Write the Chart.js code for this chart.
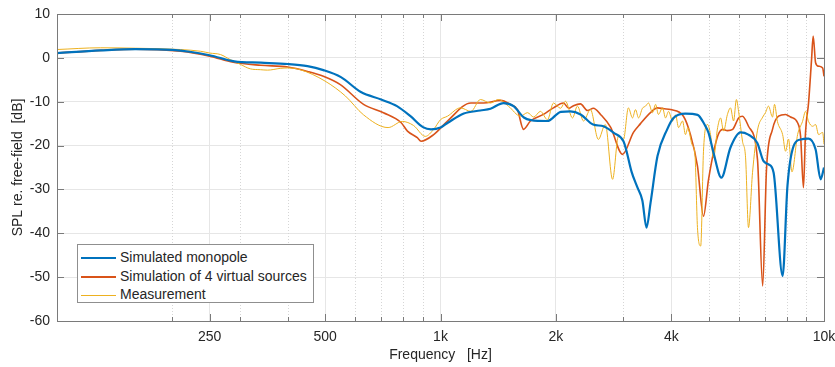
<!DOCTYPE html>
<html lang="en">
<head>
<meta charset="UTF-8">
<title>SPL re. free-field</title>
<script src="https://cdn.jsdelivr.net/npm/chart.js"></script>
<style>
  body { margin: 0; background: #fff; }
  #wrap { position: relative; width: 835px; height: 367px; }
  #legenda {
    position: absolute; left: 77px; top: 244px; width: 237px; height: 59px;
    border: 1px solid #8f8f8f; background: #fff; box-sizing: border-box;
    font-family: "Liberation Sans", Arial, sans-serif; font-size: 14px; color: #262626;
    padding-top: 3px;
  }
  .item { height: 18.7px; line-height: 18.7px; white-space: nowrap; }
  .amostra { display: inline-block; width: 35px; vertical-align: middle; margin: 0 4px 0 3px; }
</style>
</head>
<body>
<div id="wrap">
  <canvas id="grafico" width="835" height="367"></canvas>
  <div id="legenda"></div>
</div>
<script>
// eixo x
var xTicks = [250, 500, 1000, 2000, 4000, 10000];
var xTickLabels = ['250', '500', '1k', '2k', '4k', '10k'];
var xMinor = [200, 300, 400, 600, 700, 800, 900, 3000, 5000, 6000, 7000, 8000, 9000];
var yTicks = [10, 0, -10, -20, -30, -40, -50, -60];

var nomes = ['Simulated monopole', 'Simulation of 4 virtual sources', 'Measurement'];

// Simulated monopole
var monoHz = [100, 130, 160, 200, 250, 290, 340, 400, 450, 495, 550, 620, 700, 770, 835, 900, 945, 1000, 1045, 1150, 1270, 1350, 1460, 1550, 1650, 1720, 1900, 2060, 2180, 2320, 2500, 2660, 2830, 3000, 3050, 3150, 3260, 3360, 3445, 3530, 3680, 3900, 4050, 4350, 4680, 4880, 5000, 5150, 5400, 5700, 6060, 6350, 6700, 6950, 7170, 7390, 7800, 8030, 8330, 8690, 9110, 9510, 9800, 10000];
var monoDb = [1.1, 1.7, 2.0, 1.8, 0.6, -0.8, -1.1, -1.4, -1.9, -2.8, -4.4, -7.8, -9.5, -11, -13.3, -15.8, -16.3, -15.9, -14.8, -12.7, -12.0, -11.6, -10.3, -11, -13.6, -14.2, -14.4, -12.3, -12.2, -12.9, -15.2, -15.6, -17.1, -19, -21, -26, -29.5, -32.5, -38.7, -33, -22.4, -16.3, -13.7, -12.7, -13.0, -15.2, -17.1, -21.6, -27.3, -20.5, -17, -17.5, -19.4, -23.5, -24.3, -26.2, -49.7, -29.2, -20.1, -18.6, -18.4, -20.9, -27.7, -25];

// Simulation of 4 virtual sources
var virtHz = [100, 130, 160, 210, 250, 288, 340, 400, 450, 495, 548, 630, 710, 790, 820, 870, 890, 960, 1043, 1200, 1294, 1434, 1520, 1587, 1646, 1716, 1856, 1970, 2092, 2160, 2222, 2317, 2417, 2505, 2614, 2776, 2983, 3185, 3323, 3528, 3678, 3830, 3980, 4300, 4485, 4678, 4850, 5000, 5280, 5440, 5600, 5780, 5990, 6130, 6355, 6708, 6920, 7080, 7340, 7610, 7940, 8180, 8534, 8689, 8840, 8950, 9114, 9280, 9370, 9508, 9680, 9920, 10000];
var virtDb = [1.1, 1.7, 2.0, 1.5, 0.4, -1.0, -1.7, -2.1, -3.1, -4.2, -6.1, -10.6, -12.5, -14.8, -16.7, -18.2, -19.0, -17.5, -14.4, -10.3, -10.3, -9.7, -10.6, -11.8, -16.3, -14.4, -12.9, -11.4, -10.3, -11.5, -10.9, -10.5, -12.0, -11.5, -12.9, -15.8, -22.0, -17, -15.0, -12.5, -11.4, -11.6, -11.8, -13.3, -17.5, -24.7, -36.1, -27.7, -17.9, -16.3, -16.6, -16.3, -13.7, -13.3, -15.6, -23.2, -52.0, -25.4, -16.3, -13.3, -12.9, -13.5, -14.8, -17.9, -29.6, -17, -10.3, -0.4, 5.0, -1.1, -1.9, -2.3, -4.2];

// Measurement
var measHz = [100, 130, 160, 210, 237, 250, 267, 283, 301, 319, 339, 354, 382, 400, 431, 500, 565, 630, 730, 795, 850, 913, 960, 1000, 1043, 1127, 1200, 1271, 1350, 1416, 1503, 1617, 1686, 1750, 1822, 1901, 1970, 2055, 2118, 2209, 2275, 2360, 2460, 2580, 2690, 2810, 2910, 3000, 3090, 3167, 3225, 3284, 3362, 3425, 3487, 3572, 3637, 3700, 3793, 3862, 3932, 4028, 4102, 4176, 4277, 4353, 4417, 4525, 4607, 4678, 4770, 4850, 4969, 5060, 5151, 5280, 5374, 5472, 5600, 5704, 5811, 5910, 5988, 6130, 6245, 6355, 6510, 6708, 6920, 7037, 7165, 7340, 7430, 7560, 7800, 7940, 8080, 8250, 8534, 8790, 8950, 9114, 9340, 9508, 9680, 9920, 10000];
var measDb = [1.9, 2.3, 2.2, 1.9, 1.5, 1.1, 0.75, -0.4, -1.5, -2.5, -2.7, -2.8, -2.4, -2.3, -2.7, -5.3, -8.7, -13.0, -15.9, -14.5, -15.4, -17.9, -16.3, -14.1, -13.3, -11.4, -12.2, -9.5, -10.3, -9.5, -11, -13.3, -12.5, -13.5, -12.2, -14.1, -10.3, -11.5, -9.9, -13.7, -11, -14.4, -11.8, -18.6, -15.2, -27.7, -17.9, -18.6, -11.4, -13.7, -11.8, -13.7, -11.5, -11, -10.3, -12.5, -10.6, -12.9, -11.4, -13.7, -12.2, -14.4, -13, -15.9, -14.4, -17.5, -15.9, -19.7, -22, -38.7, -42.9, -21.3, -15.2, -17.5, -22.8, -15.9, -13.7, -16.7, -12.9, -11.4, -14.4, -9.5, -12.2, -19, -22.8, -38.7, -26.2, -16.5, -13.5, -12.5, -11, -13.5, -10.6, -14.5, -17.5, -21.3, -18.5, -26, -17.5, -14.5, -12.2, -14.5, -15.6, -15.2, -17.5, -17, -19.7];

var cores = ['#0072BD', '#D95319', '#EDB120'];

function pontos(hz, db) {
    return hz.map(function (f, i) { return { x: f, y: db[i] }; });
}

// grade menor pontilhada, marcas para dentro e caixa (estilo matlab)
var gradeMatlab = {
    id: 'gradeMatlab',
    beforeDatasetsDraw: function (chart) {
        var ctx = chart.ctx, a = chart.chartArea, x = chart.scales.x;
        ctx.save();
        ctx.strokeStyle = '#d6d6d6';
        ctx.lineWidth = 1;
        ctx.setLineDash([1, 2]);
        xMinor.forEach(function (f) {
            var px = Math.round(x.getPixelForValue(f)) + 0.5;
            ctx.beginPath();
            ctx.moveTo(px, a.top);
            ctx.lineTo(px, a.bottom);
            ctx.stroke();
        });
        ctx.restore();
    },
    afterDatasetsDraw: function (chart) {
        var ctx = chart.ctx, a = chart.chartArea, x = chart.scales.x, y = chart.scales.y;
        ctx.save();
        ctx.strokeStyle = '#7a7a7a';
        ctx.lineWidth = 1;
        ctx.strokeRect(Math.round(a.left) + 0.5, Math.round(a.top) + 0.5, Math.round(a.right - a.left), Math.round(a.bottom - a.top));
        function marcaX(f, len) {
            var px = Math.round(x.getPixelForValue(f)) + 0.5;
            ctx.beginPath();
            ctx.moveTo(px, a.bottom); ctx.lineTo(px, a.bottom - len);
            ctx.moveTo(px, a.top); ctx.lineTo(px, a.top + len);
            ctx.stroke();
        }
        xTicks.forEach(function (f) { marcaX(f, 7); });
        xMinor.forEach(function (f) { marcaX(f, 4); });
        yTicks.forEach(function (v) {
            var py = Math.round(y.getPixelForValue(v)) + 0.5;
            ctx.beginPath();
            ctx.moveTo(a.left, py); ctx.lineTo(a.left + 7, py);
            ctx.moveTo(a.right, py); ctx.lineTo(a.right - 7, py);
            ctx.stroke();
        });
        ctx.restore();
    }
};

var fonte = { family: '"Liberation Sans", Arial, sans-serif', size: 14 };

var config = {
    type: 'line',
    data: {
        datasets: [
            { label: nomes[0], data: pontos(monoHz, monoDb), borderColor: cores[0], borderWidth: 2.2, order: 0 },
            { label: nomes[1], data: pontos(virtHz, virtDb), borderColor: cores[1], borderWidth: 1.6, order: 2 },
            { label: nomes[2], data: pontos(measHz, measDb), borderColor: cores[2], borderWidth: 1, order: 1 }
        ]
    },
    options: {
        responsive: false,
        animation: false,
        devicePixelRatio: 1,
        layout: { padding: { top: 14, right: 11, left: 0, bottom: 0 } },
        elements: {
            point: { radius: 0 },
            line: { cubicInterpolationMode: 'monotone', fill: false }
        },
        plugins: { legend: { display: false }, tooltip: { enabled: false } },
        scales: {
            x: {
                type: 'logarithmic',
                min: 100,
                max: 10000,
                afterBuildTicks: function (scale) {
                    scale.ticks = xTicks.map(function (v) { return { value: v }; });
                },
                afterFit: function (scale) {
                    scale.height = 46;
                    scale.paddingLeft = 0;
                    scale.paddingRight = 0;
                },
                ticks: {
                    autoSkip: false, maxRotation: 0, padding: 8,
                    color: '#262626', font: fonte,
                    callback: function (v) { return xTickLabels[xTicks.indexOf(v)]; }
                },
                grid: { color: '#e6e6e6', drawTicks: false },
                border: { display: false },
                title: { display: true, text: 'Frequency   [Hz]', color: '#262626', font: fonte, padding: { top: 0, bottom: 3 } }
            },
            y: {
                min: -60,
                max: 10,
                afterBuildTicks: function (scale) {
                    scale.ticks = yTicks.map(function (v) { return { value: v }; });
                },
                afterFit: function (scale) {
                    scale.width = 57;
                    scale.paddingTop = 0;
                    scale.paddingBottom = 0;
                },
                ticks: { padding: 7, color: '#262626', font: fonte },
                grid: { color: '#e6e6e6', drawTicks: false },
                border: { display: false },
                title: { display: true, text: 'SPL re. free-field  [dB]', color: '#262626', font: fonte, padding: { top: 10, bottom: 0 } }
            }
        }
    },
    plugins: [gradeMatlab]
};

var myChart = new Chart(document.getElementById('grafico'), config);

// legenda dentro do grafico
var legenda = document.getElementById('legenda');
nomes.forEach(function (n, i) {
    var ds = myChart.data.datasets[i];
    legenda.innerHTML += '<div class="item"><span class="amostra" style="border-top:' +
        Math.max(1, Math.round(ds.borderWidth)) + 'px solid ' + ds.borderColor + '"></span>' + n + '</div>';
});
</script>
</body>
</html>
